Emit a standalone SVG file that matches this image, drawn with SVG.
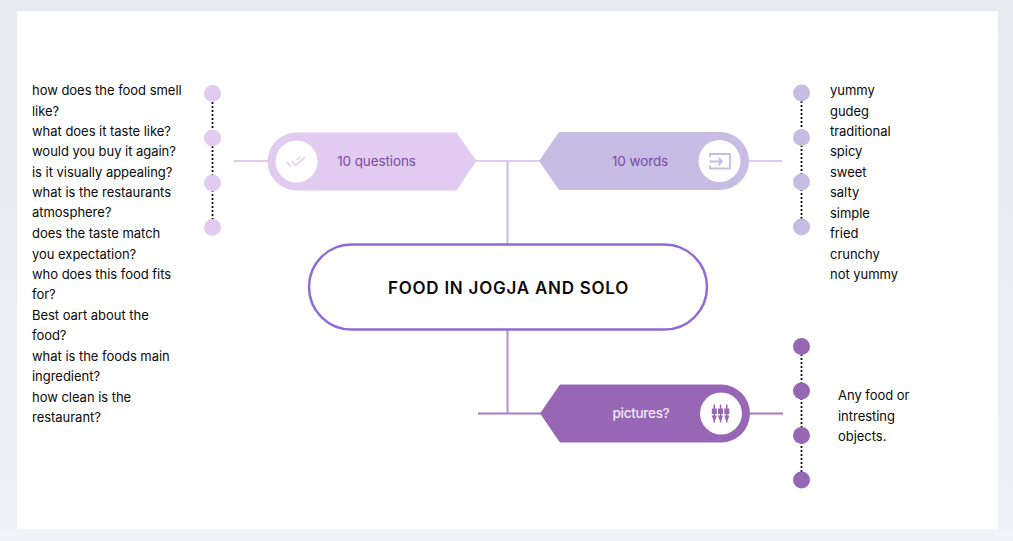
<svg xmlns="http://www.w3.org/2000/svg" width="1013" height="541" viewBox="0 0 1013 541">
<defs>
<linearGradient id="bg" x1="0" y1="0" x2="0" y2="1"><stop offset="0" stop-color="#e9eaf0"/><stop offset="1" stop-color="#eef0f5"/></linearGradient>
</defs>
<style>
text{font-family:"Inter","Liberation Sans",sans-serif}
.t{font-size:13px;fill:#0a0a0a;letter-spacing:-.03px}
.dot{stroke:#111;stroke-width:1.800;stroke-dasharray:2 2;fill:none}
.lbl{font-size:13.500px;text-anchor:middle;fill:#7b4ba5;letter-spacing:-.1px}
.ic{fill:none;stroke-width:1.800}
</style>
<rect width="1013" height="541" fill="url(#bg)"/>
<rect y="529" width="1013" height="12" fill="#f2f3f8"/>
<rect x="17" y="11" width="981" height="518" fill="#fff"/>
<g id="connectors" fill="none">
<path d="M233.500 161H268" stroke="#e2cbf0" stroke-width="2"/>
<path d="M476 161H540" stroke="#e2cbf0" stroke-width="2"/>
<path d="M748 161H782" stroke="#e2cbf0" stroke-width="2"/>
<path d="M507.500 161V244" stroke="#c7bce3" stroke-width="2"/>
<path d="M507.500 330V413" stroke="#b48fdc" stroke-width="2"/>
<path d="M478 413.500H541" stroke="#a678c8" stroke-width="2"/>
<path d="M749 413.500H783" stroke="#a678c8" stroke-width="2"/>
<path class="dot" d="M212.500 102V220"/>
<path class="dot" d="M801.500 101V220"/>
<path class="dot" d="M801.500 354V472"/>
</g>
<g id="node-center">
<rect x="309" y="244.500" width="398" height="85" rx="42.500" fill="#fff" stroke="#8e6bd8" stroke-width="2.500"/>
<text x="508.500" y="294" text-anchor="middle" font-size="17" font-weight="600" fill="#0a0a0a" letter-spacing=".75">FOOD IN JOGJA AND SOLO</text>
</g>
<g id="node-questions">
<path d="M296.500 132.500H456.500L476.500 161L456.500 190.500H296.500A29 29 0 0 1 296.500 132.500Z" fill="#e2cbf0"/>
<circle cx="296.500" cy="161.500" r="21" fill="#fff"/>
<path d="M287 162.500L291 166.500M292 161.500L295.500 165.500L305 157M296.500 160L300.500 157" fill="none" stroke="#e2cbf0" stroke-width="1.500"/>
<text class="lbl" x="376.500" y="166">10 questions</text>
</g>
<g id="node-words">
<path d="M559 132H720A29 29 0 0 1 720 190H559L539 161Z" fill="#c7bce3"/>
<circle cx="719.500" cy="161" r="21" fill="#fff"/>
<path d="M710 157V154H730V168.500H710V165.500M709.500 161.500H722M718.500 158L722 161.500L718.500 165" class="ic" stroke="#c7bce3"/>
<text class="lbl" x="640" y="166">10 words</text>
</g>
<g id="node-pictures">
<path d="M560 384.500H721A29 29 0 0 1 721 442.500H560L540 413.500Z" fill="#9766b5"/>
<circle cx="721" cy="413.500" r="21" fill="#fff"/>
<g fill="#9766b5">
<path d="M713.500 404.500h1.500v18h-1.500ZM719.800 404.500h1.500v18h-1.500ZM726 404.500h1.500v18h-1.500Z"/>
<path d="M711.800 408.500h5v5.500h-5ZM718 408.500h5v5.500h-5ZM724.300 408.500h5v5.500h-5Z"/>
<path d="M711.800 415.500h5l-1.500 4.500h-2ZM718 415.500h5l-1.500 4.500h-2ZM724.300 415.500h5l-1.500 4.500h-2Z"/>
</g>
<text class="lbl" x="641" y="418" font-weight="500" style="fill:#f3ecf8;letter-spacing:-.3px">pictures?</text>
</g>
<g id="dots-questions" fill="#e2cbf0">
<circle cx="212.500" cy="93.500" r="8.500"/><circle cx="212.500" cy="138" r="8.500"/><circle cx="212.500" cy="183" r="8.500"/><circle cx="212.500" cy="227.500" r="8.500"/>
</g>
<g id="dots-words" fill="#c7bce3">
<circle cx="801.500" cy="93" r="8.500"/><circle cx="801.500" cy="137.500" r="8.500"/><circle cx="801.500" cy="182" r="8.500"/><circle cx="801.500" cy="227" r="8.500"/>
</g>
<g id="dots-pictures" fill="#9766b5">
<circle cx="801.500" cy="346.500" r="8.500"/><circle cx="801.500" cy="391" r="8.500"/><circle cx="801.500" cy="435.500" r="8.500"/><circle cx="801.500" cy="480" r="8.500"/>
</g>
<g id="text-questions">
<text class="t" x="32" y="95">how does the food smell</text>
<text class="t" x="32" y="115.500">like?</text>
<text class="t" x="32" y="136">what does it taste like?</text>
<text class="t" x="32" y="156">would you buy it again?</text>
<text class="t" x="32" y="176.500">is it visually appealing?</text>
<text class="t" x="32" y="197">what is the restaurants</text>
<text class="t" x="32" y="217">atmosphere?</text>
<text class="t" x="32" y="238">does the taste match</text>
<text class="t" x="32" y="258.500">you expectation?</text>
<text class="t" x="32" y="279">who does this food fits</text>
<text class="t" x="32" y="299">for?</text>
<text class="t" x="32" y="320">Best oart about the</text>
<text class="t" x="32" y="340">food?</text>
<text class="t" x="32" y="361">what is the foods main</text>
<text class="t" x="32" y="381">ingredient?</text>
<text class="t" x="32" y="402">how clean is the</text>
<text class="t" x="32" y="422">restaurant?</text>
</g>
<g id="text-words">
<text class="t" x="830" y="95">yummy</text>
<text class="t" x="830" y="115.500">gudeg</text>
<text class="t" x="830" y="136">traditional</text>
<text class="t" x="830" y="156">spicy</text>
<text class="t" x="830" y="177">sweet</text>
<text class="t" x="830" y="197">salty</text>
<text class="t" x="830" y="218">simple</text>
<text class="t" x="830" y="238">fried</text>
<text class="t" x="830" y="259">crunchy</text>
<text class="t" x="830" y="279">not yummy</text>
</g>
<g id="text-pictures">
<text class="t" x="838" y="400">Any food or</text>
<text class="t" x="838" y="421">intresting</text>
<text class="t" x="838" y="441">objects.</text>
</g>
</svg>
